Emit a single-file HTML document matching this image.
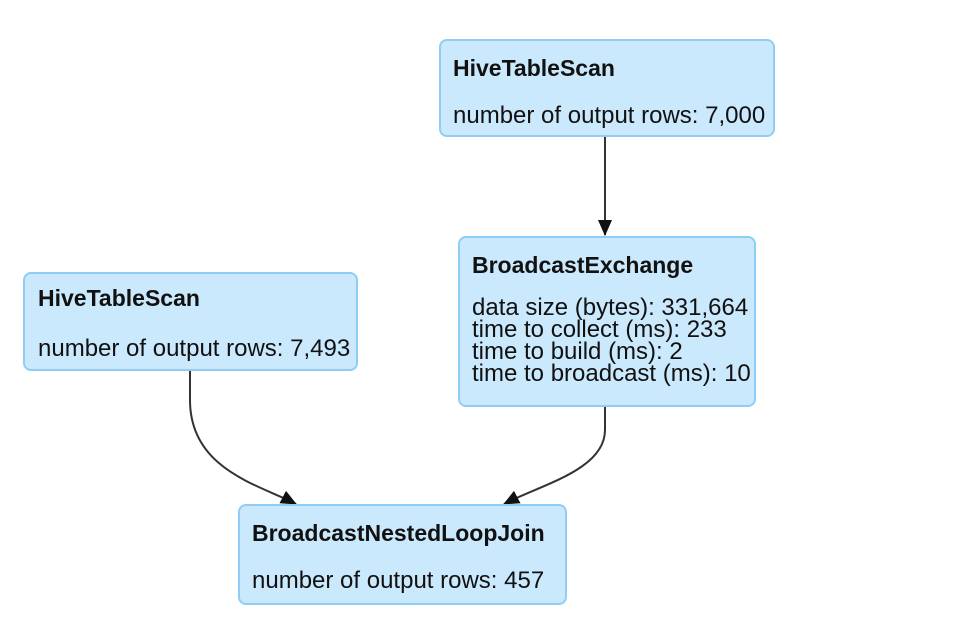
<!DOCTYPE html>
<html><head><style>
html,body{margin:0;padding:0;background:#fff;}
svg{display:block;}
text{font-family:"Liberation Sans",sans-serif;font-size:24px;fill:#111;}
.b{font-weight:bold;font-size:23px;}
rect{fill:#cbe9fc;stroke:#8fcdf5;stroke-width:2;}
path.e{fill:none;stroke:#333;stroke-width:2;}
</style></head><body>
<svg width="958" height="624" viewBox="0 0 958 624">
<defs><marker id="a" markerWidth="16" markerHeight="14" refX="15" refY="7" orient="auto" markerUnits="userSpaceOnUse">
<path d="M0,0 L16,7 L0,14 z" fill="#111"/></marker></defs>
<path class="e" d="M605,136 L605,235" marker-end="url(#a)"/>
<path class="e" d="M190,370 L190,400 C190,470 260,485 296,504" marker-end="url(#a)"/>
<path class="e" d="M605,406 L605,430 C605,470 540,485 504,504" marker-end="url(#a)"/>
<rect x="440" y="40" width="334" height="96" rx="7"/>
<text class="b" x="453" y="76">HiveTableScan</text>
<text x="453" y="123">number of output rows: 7,000</text>
<rect x="459" y="237" width="296" height="169" rx="7"/>
<text class="b" x="472" y="273">BroadcastExchange</text>
<text x="472" y="315">data size (bytes): 331,664</text>
<text x="472" y="337">time to collect (ms): 233</text>
<text x="472" y="359">time to build (ms): 2</text>
<text x="472" y="381">time to broadcast (ms): 10</text>
<rect x="24" y="273" width="333" height="97" rx="7"/>
<text class="b" x="38" y="306">HiveTableScan</text>
<text x="38" y="356">number of output rows: 7,493</text>
<rect x="239" y="505" width="327" height="99" rx="7"/>
<text class="b" x="252" y="541">BroadcastNestedLoopJoin</text>
<text x="252" y="588">number of output rows: 457</text>
</svg>
</body></html>
